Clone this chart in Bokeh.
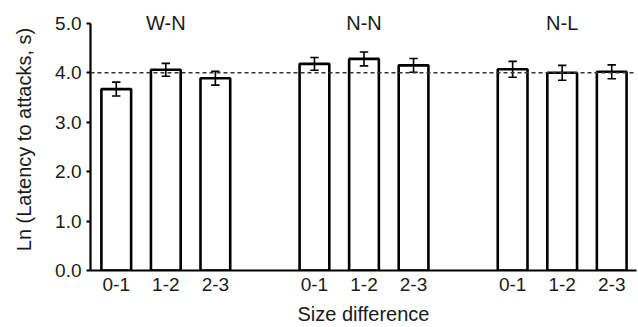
from bokeh.plotting import figure
from bokeh.models import (ColumnDataSource, FixedTicker, Span,
                          NumeralTickFormatter, Range1d)
from bokeh.core.properties import value
from bokeh.embed import file_html
from bokeh.resources import INLINE

# ---- data ----
groups = ["W-N", "N-N", "N-L"]
sizes = ["0-1", "1-2", "2-3"]
means = [3.67, 4.06, 3.89, 4.18, 4.28, 4.15, 4.07, 4.00, 4.02]
ses = [0.14, 0.13, 0.14, 0.13, 0.14, 0.14, 0.16, 0.15, 0.14]
reference_level = 4.0

# positions: 3 bars per group, one empty slot between groups
xs = []
labels = []
for gi in range(len(groups)):
    for si in range(len(sizes)):
        xs.append(gi * 4 + si)
        labels.append(sizes[si])
group_x = [gi * 4 + 1 for gi in range(len(groups))]

FONT = "Liberation Sans"
FS = "19px"
FS_T = "20px"
TXT = "#1a1a1a"
CAP = 0.085  # half cap width in data units

upper = [m + s for m, s in zip(means, ses)]
lower = [m - s for m, s in zip(means, ses)]
src = ColumnDataSource(dict(
    x=xs, top=means, upper=upper, lower=lower,
    xl=[x - CAP for x in xs], xr=[x + CAP for x in xs],
))

p = figure(width=638, height=327, output_backend="svg", toolbar_location=None,
           x_range=Range1d(-0.52, 10.5), y_range=Range1d(0, 5.30),
           min_border_left=90, min_border_right=2, min_border_top=8,
           min_border_bottom=57)
p.outline_line_color = None
p.xgrid.visible = False
p.ygrid.visible = False
p.background_fill_color = "white"

# reference dashed line
p.add_layout(Span(location=reference_level, dimension="width",
                  line_color="#333333", line_width=1.3, line_dash="4 3"))

p.vbar(x="x", top="top", bottom=0, width=0.6, source=src,
       fill_color="white", line_color="black", line_width=2.6)

# error bars drawn after bars
p.segment(x0="x", y0="lower", x1="x", y1="upper", source=src,
          line_color="black", line_width=1.6)
p.segment(x0="xl", y0="upper", x1="xr", y1="upper", source=src,
          line_color="black", line_width=1.6)
p.segment(x0="xl", y0="lower", x1="xr", y1="lower", source=src,
          line_color="black", line_width=1.6)

p.text(x=group_x, y=[5.0] * len(groups), text=groups,
       text_align="center", text_baseline="middle",
       text_font=value(FONT), text_font_size=FS_T, text_color=TXT)

# x axis
p.xaxis.ticker = FixedTicker(ticks=xs)
p.xaxis.major_label_overrides = {x: l for x, l in zip(xs, labels)}
p.xaxis.major_tick_line_color = None
p.xaxis.minor_tick_line_color = None
p.xaxis.major_tick_out = 0
p.xaxis.major_label_standoff = 7
p.xaxis.axis_line_width = 2.2
p.xaxis.axis_line_color = "black"
p.xaxis.axis_label = "Size difference"
p.xaxis.axis_label_standoff = 9

# y axis
p.yaxis.ticker = FixedTicker(ticks=[0, 1, 2, 3, 4, 5])
p.yaxis.formatter = NumeralTickFormatter(format="0.0")
p.yaxis.bounds = (0, 5)
p.yaxis.minor_tick_line_color = None
p.yaxis.major_tick_out = 4
p.yaxis.major_tick_in = 0
p.yaxis.major_tick_line_width = 2
p.yaxis.major_label_standoff = 5
p.yaxis.axis_line_width = 2.2
p.yaxis.axis_line_color = "black"
p.yaxis.axis_label = "Ln (Latency to attacks, s)"
p.yaxis.axis_label_standoff = 17

for ax in (p.xaxis, p.yaxis):
    ax.major_label_text_font = FONT
    ax.major_label_text_font_size = FS
    ax.major_label_text_color = TXT
    ax.axis_label_text_font = FONT
    ax.axis_label_text_font_size = FS_T
    ax.axis_label_text_font_style = "normal"
    ax.axis_label_text_color = TXT

open("out.html", "w").write(file_html(p, INLINE))
